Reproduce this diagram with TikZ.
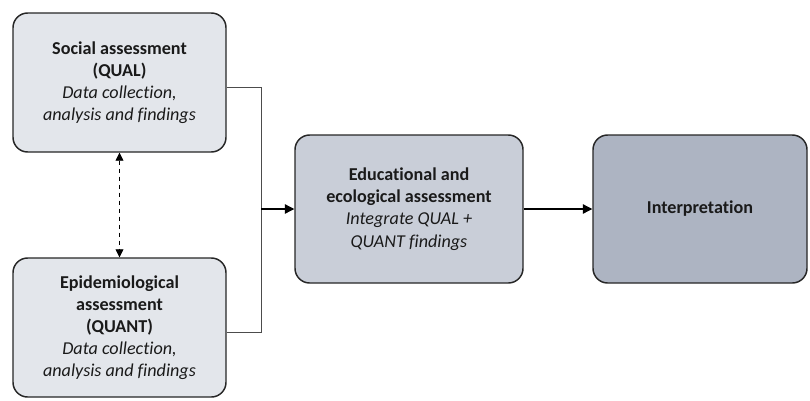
\documentclass[tikz,border=0pt]{standalone}
\usepackage{fontspec}
\setmainfont{Carlito}[RawFeature={-liga;-clig;-dlig;-calt}]
\usetikzlibrary{arrows.meta}
\definecolor{boxA}{HTML}{E3E6EB}
\definecolor{boxB}{HTML}{C9CED8}
\definecolor{boxC}{HTML}{ADB4C2}
\definecolor{txt}{HTML}{1A1A1A}
\begin{document}
\begin{tikzpicture}[x=0.75pt,y=-0.75pt,
  stage/.style={draw=black!85, line width=1.1pt, rounded corners=11pt,
    align=center, text=txt, inner sep=0pt,
    font=\fontsize{13.6}{16.6}\selectfont},
  link/.style={draw=black!70, line width=0.6pt},
  flow/.style={draw=black, line width=0.9pt, -{Triangle[length=7pt,width=7pt]}},
  both/.style={draw=black, line width=0.6pt, dashed, {Triangle[length=6pt,width=6pt]}-{Triangle[length=6pt,width=6pt]}}]
  \useasboundingbox (0,0) rectangle (810,400);

  % assessment stages
  \node[stage, fill=boxA, minimum width=213*0.75pt, minimum height=139*0.75pt]
    (social) at (119.5,82.5)
    {\textbf{Social assessment}\\\textbf{(QUAL)}\\\textit{Data collection,}\\\textit{analysis and findings}};
  \node[stage, fill=boxA, minimum width=213*0.75pt, minimum height=139*0.75pt]
    (epi) at (119.5,327.5)
    {\textbf{Epidemiological}\\\textbf{assessment}\\\textbf{(QUANT)}\\\textit{Data collection,}\\\textit{analysis and findings}};
  \node[stage, fill=boxB, minimum width=228*0.75pt, minimum height=148*0.75pt]
    (edu) at (409,209)
    {\textbf{Educational and}\\\textbf{ecological assessment}\\\textit{Integrate QUAL +}\\\textit{QUANT findings}};
  \node[stage, fill=boxC, minimum width=214*0.75pt, minimum height=148*0.75pt]
    (interp) at (700,209)
    {\textbf{Interpretation}};

  % joining the two assessments
  \coordinate (join) at (261,209);
  \draw[link] (social.east |- 0,87) -| (join);
  \draw[link] (epi.east |- 0,332) -| (join);
  \draw[flow] (join) -- (edu.west);
  \draw[flow] (edu.east) -- (interp.west);

  % exchange between the qualitative and quantitative strands
  \draw[both] (social.south) -- (epi.north);
\end{tikzpicture}
\end{document}
